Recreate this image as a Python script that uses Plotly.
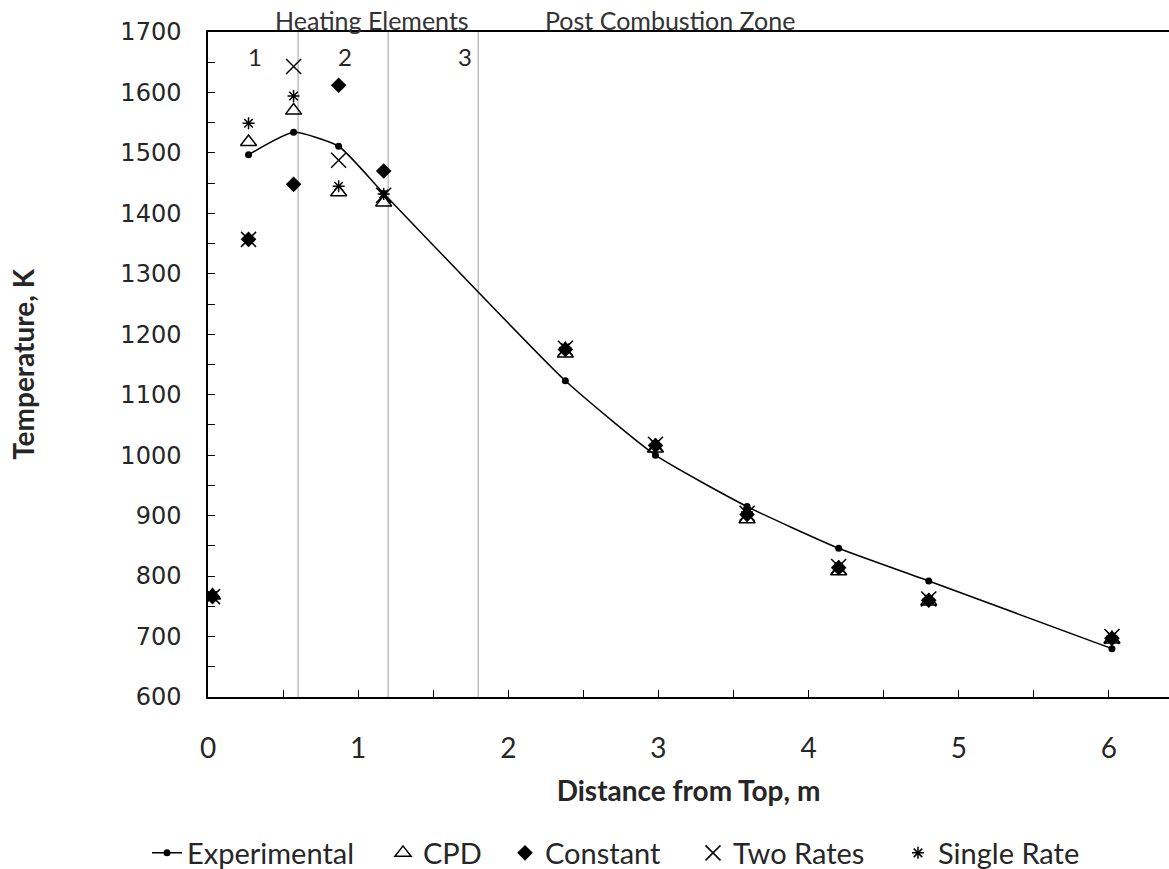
import plotly.graph_objects as go

# ---- data ----
x_exp = [0.27, 0.57, 0.87, 1.17, 2.38, 2.98, 3.59, 4.20, 4.80, 6.02]
y_exp = [1497, 1534, 1511, 1433, 1123, 1000, 915, 846, 792, 680]

x_mod = [0.03, 0.27, 0.57, 0.87, 1.17, 2.38, 2.98, 3.59, 4.20, 4.80, 6.02]
y_cpd = [768, 1518, 1570, 1435, 1418, 1168, 1011, 894, 808, 758, 695]
y_const = [766, 1357, 1448, 1612, 1470, 1175, 1016, 902, 814, 760, 697]
y_two = [766, 1357, 1643, 1488, 1430, 1177, 1018, 904, 816, 762, 700]
y_single = [768, 1549, 1594, 1445, 1432, 1178, 1018, 906, 816, 762, 700]

zone_bounds = [0.6, 1.2, 1.8]
zone_nums = ["1", "2", "3"]
zone_num_x = [0.31, 0.91, 1.71]
zone_num_y = 1660
zone_titles = ["Heating Elements", "Post Combustion Zone"]
zone_title_x = [1.09, 3.08]

CAL = "Lato, 'Open Sans', sans-serif"
TXT = "#262626"

fig = go.Figure()
fig.add_trace(go.Scatter(
    x=x_exp, y=y_exp, name="Experimental", mode="lines+markers", legend="legend",
    line=dict(color="black", width=1.5, shape="spline", smoothing=0.5),
    marker=dict(symbol="circle", size=7, color="black")))
fig.add_trace(go.Scatter(
    x=x_mod, y=y_cpd, name="CPD", mode="markers", legend="legend2",
    marker=dict(symbol="triangle-up-open", size=14, color="black", line=dict(width=1.5))))
fig.add_trace(go.Scatter(
    x=x_mod, y=y_const, name="Constant", mode="markers", legend="legend3",
    marker=dict(symbol="diamond", size=12, color="black")))
fig.add_trace(go.Scatter(
    x=x_mod, y=y_two, name="Two Rates", mode="markers", legend="legend4",
    marker=dict(symbol="x-thin-open", size=15, color="black", line=dict(width=1.5, color="black"))))
fig.add_trace(go.Scatter(
    x=x_mod, y=y_single, name="Single Rate", mode="markers", legend="legend5",
    marker=dict(symbol="asterisk-open", size=10, color="black", line=dict(width=1.5, color="black"))))

for xb in zone_bounds:
    fig.add_shape(type="line", x0=xb, x1=xb, y0=600, y1=1700, xref="x", yref="y",
                  line=dict(color="#bdbdbd", width=1.5), layer="below")

for t, xv in zip(zone_nums, zone_num_x):
    fig.add_annotation(x=xv, y=zone_num_y, text=t, showarrow=False,
                       font=dict(family=CAL, size=24, color=TXT))

for t, xv in zip(zone_titles, zone_title_x):
    fig.add_annotation(x=xv, y=1, xref="x", yref="paper", yanchor="bottom", yshift=-5,
                       text=t, showarrow=False,
                       font=dict(family=CAL, size=25, color="#333"))

PLOT_L, PLOT_W = 208, 961
leg_px = [147, 383, 505, 693, 898]
leg_common = dict(orientation="h", y=-0.2346, yanchor="middle", xanchor="left",
                  font=dict(family=CAL, size=29, color=TXT), itemwidth=30,
                  bgcolor="rgba(0,0,0,0)")
legends = {}
for i, px in enumerate(leg_px):
    key = "legend" if i == 0 else f"legend{i+1}"
    legends[key] = dict(leg_common, x=(px - PLOT_L) / PLOT_W)

fig.update_layout(
    width=1169, height=869,
    margin=dict(l=208, r=0, t=32, b=172, autoexpand=False),
    plot_bgcolor="white", paper_bgcolor="white",
    showlegend=True,
    **legends,
    xaxis=dict(range=[0, 6.4], dtick=1, tick0=0, showgrid=False, zeroline=False,
               showline=True, linecolor="black", linewidth=1.5, mirror=True,
               ticks="inside", ticklen=7, tickcolor="black", automargin=False,
               minor=dict(dtick=0.5, ticks="inside", ticklen=7, tickcolor="black"),
               tickfont=dict(family=CAL, size=28, color=TXT), ticklabelstandoff=26,
               title=dict(text="<b>Distance from Top, m</b>", font=dict(family=CAL, size=28, color=TXT),
                          standoff=18)),
    yaxis=dict(range=[600, 1700], dtick=100, showgrid=False, zeroline=False,
               showline=True, linecolor="black", linewidth=1.5, automargin=False,
               ticks="inside", ticklen=7, tickcolor="black",
               minor=dict(dtick=50, ticks="inside", ticklen=7, tickcolor="black"),
               tickfont=dict(family="DejaVu Sans", size=24, color=TXT), ticklabelstandoff=20,
               title=dict(text="<b>Temperature, K</b>", font=dict(family=CAL, size=28, color=TXT),
                          standoff=78)),
)

fig.write_html("out.html")
